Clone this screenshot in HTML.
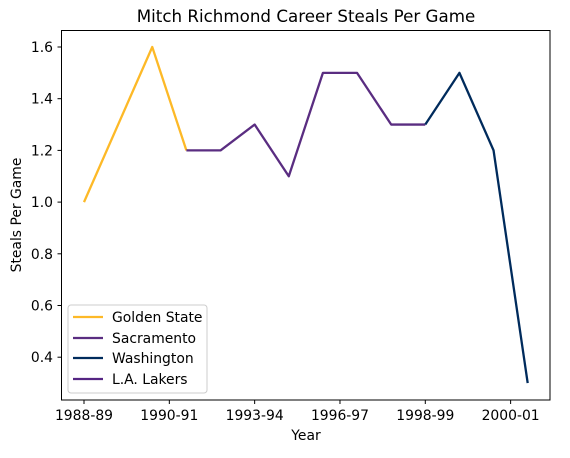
<!DOCTYPE html>
<html><head><meta charset="utf-8"><style>
body{margin:0;background:#fff;}
svg text{font-family:"DejaVu Sans","Liberation Sans",sans-serif;fill:#000;}
</style></head><body>
<svg id="chart" width="570" height="453" xmlns="http://www.w3.org/2000/svg">
<text x="306" y="22" font-size="16.7" text-anchor="middle">Mitch Richmond Career Steals Per Game</text>
<rect x="61.5" y="30.5" width="488.5" height="369.5" fill="none" stroke="#000" stroke-width="1"/>
<g id="xt"></g>
<g id="yt"></g>
<g id="lines"></g>
<text x="306" y="440" font-size="13.9" text-anchor="middle">Year</text>
<text transform="translate(21,215) rotate(-90)" font-size="13.9" text-anchor="middle">Steals Per Game</text>
<g>
<rect x="68" y="305" width="139" height="88" rx="3" fill="#fff" stroke="#ccc"/>
<line x1="73" x2="103" y1="317" y2="317" stroke="#FDB927" stroke-width="2.3"/><text x="112" y="322" font-size="13.9">Golden State</text>
<line x1="73" x2="103" y1="338" y2="338" stroke="#5A2D81" stroke-width="2.3"/><text x="112" y="343" font-size="13.9">Sacramento</text>
<line x1="73" x2="103" y1="358" y2="358" stroke="#002B5C" stroke-width="2.3"/><text x="112" y="363" font-size="13.9">Washington</text>
<line x1="73" x2="103" y1="379" y2="379" stroke="#552583" stroke-width="2.3"/><text x="112" y="384" font-size="13.9">L.A. Lakers</text>
</g>
</svg>
<script>
const steals = [1.0,1.3,1.6,1.2,1.2,1.3,1.1,1.5,1.5,1.3,1.3,1.5,1.2,0.3];
const teamNames = ["Golden State","Sacramento","Washington","L.A. Lakers"];
const teamStart = [0,3,10,13];
const teamEnd = [3,10,13,13];
const teamColors = ["#FDB927","#5A2D81","#002B5C","#552583"];
const xTickPos = [0,2.5,5,7.5,10,12.5];
const xTickLabels = ["1988-89","1990-91","1993-94","1996-97","1998-99","2000-01"];
const yTicks = [0.4,0.6,0.8,1.0,1.2,1.4,1.6];
const NS="http://www.w3.org/2000/svg";
const xs=i=>84+i*34.13;
const ys=v=>47+(1.6-v)*258.5;
function mk(t,a,p){const e=document.createElementNS(NS,t);for(const k in a)e.setAttribute(k,a[k]);p.appendChild(e);return e;}
const xt=document.getElementById('xt'),yt=document.getElementById('yt'),ln=document.getElementById('lines');
xTickPos.forEach((p,i)=>{const x=xs(p);
 const l=mk('line',{x1:x,x2:x,y1:400,y2:404,stroke:'#000'},xt);
 
 
 const t=mk('text',{x:x,y:420,'font-size':13.9,'text-anchor':'middle'},xt);t.textContent=xTickLabels[i];
 
 
});
yTicks.forEach(v=>{const y=ys(v);
 const l=mk('line',{x1:57.5,x2:61.5,y1:y,y2:y,stroke:'#000'},yt);
 
 
 const t=mk('text',{x:53,y:y+5,'font-size':13.9,'text-anchor':'end'},yt);t.textContent=v.toFixed(1);
 
 
});
teamNames.forEach((n,k)=>{
 const pts=[];for(let i=teamStart[k];i<=teamEnd[k];i++)pts.push(xs(i)+','+ys(steals[i]));
 const p=mk('polyline',{points:pts.join(' '),fill:'none',stroke:teamColors[k],'stroke-width':2.3,'stroke-linejoin':'round'},ln);
 
 
});
</script>
</body></html>
